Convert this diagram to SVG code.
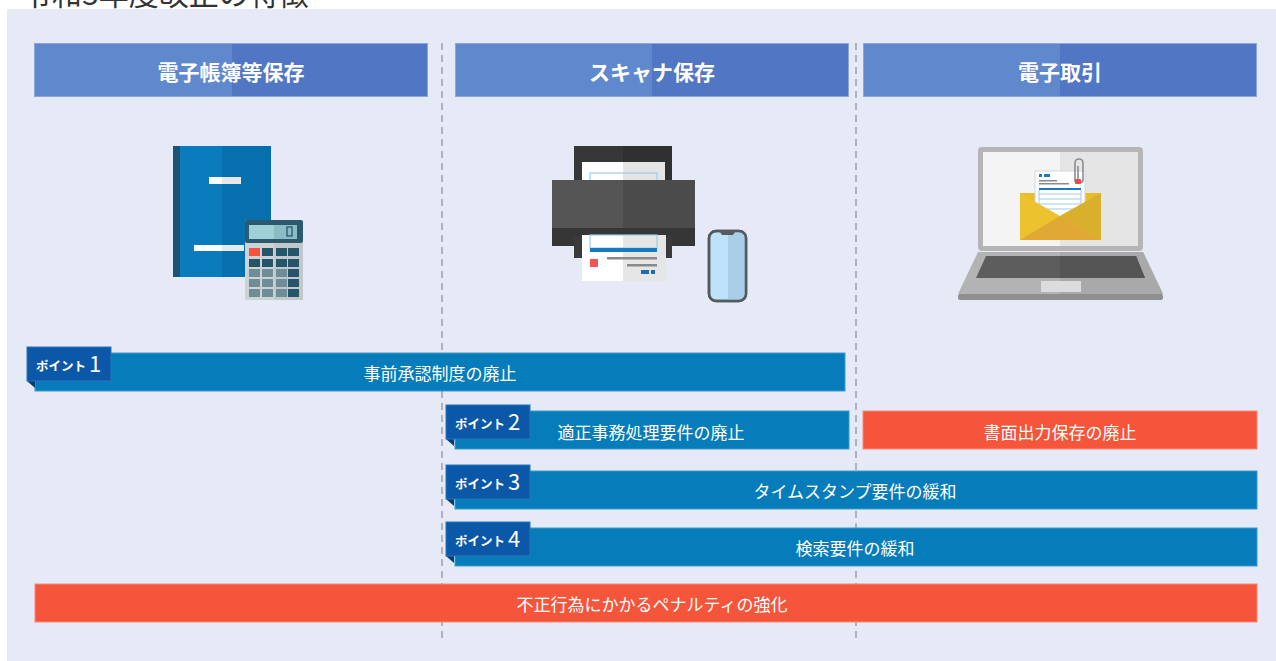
<svg xmlns="http://www.w3.org/2000/svg" width="1276" height="661" viewBox="0 0 1276 661">
  <style>
    .jp { font-family: "Noto Sans CJK JP", "Noto Sans", sans-serif; }
    .hdr-l { fill: #6089cd; }
    .hdr-r { fill: #5176c3; }
    .hdr-edge { fill: none; stroke: #8aa6dc; stroke-width: 1; }
    .hdr-txt { fill: #ffffff; font-size: 21px; font-weight: 700; text-anchor: middle; dominant-baseline: central; }
    .bar-blue { fill: #067dba; stroke: #3f9bcc; stroke-width: 1; }
    .bar-red { fill: #f5553a; stroke: #f88a75; stroke-width: 1; }
    .bar-txt { fill: #ffffff; font-size: 17px; text-anchor: middle; dominant-baseline: central; }
    .tag { fill: #0b58a8; stroke: #2c74bd; stroke-width: 1; }
    .fold { fill: #063c72; }
    .tag-word { fill: #ffffff; font-size: 12.5px; font-weight: 700; }
    .tag-num { fill: #ffffff; font-size: 22px; font-weight: 400; }
    .divider { stroke: #9aa0aa; stroke-width: 1.5; stroke-dasharray: 7 5; }
  </style>
  <defs>
    <g id="point-tag">
      <polygon class="fold" points="0,34 8,34 8,41"/>
      <rect class="tag" x="0" y="0" width="84" height="34"/>
    </g>
  </defs>

  <!-- page backdrop -->
  <rect x="0" y="0" width="1276" height="661" fill="#ffffff"/>
  <text class="jp" x="22" y="5" font-size="30" fill="#333333">令和3年度改正の特徴</text>
  <rect x="7" y="9" width="1269" height="652" fill="#e5eaf6"/>

  <!-- column dividers -->
  <g id="connectors">
    <line class="divider" x1="442" y1="43" x2="442" y2="640"/>
    <line class="divider" x1="856" y1="43" x2="856" y2="640"/>
  </g>

  <!-- column headings -->
  <g id="head-ledger">
    <rect class="hdr-l" x="34" y="43" width="198" height="54"/>
    <rect class="hdr-r" x="232" y="43" width="196" height="54"/>
    <rect class="hdr-edge" x="34.5" y="43.5" width="393" height="53"/>
    <text class="jp hdr-txt" x="231" y="71">電子帳簿等保存</text>
  </g>
  <g id="head-scanner">
    <rect class="hdr-l" x="455" y="43" width="197" height="54"/>
    <rect class="hdr-r" x="652" y="43" width="197" height="54"/>
    <rect class="hdr-edge" x="455.5" y="43.5" width="393" height="53"/>
    <text class="jp hdr-txt" x="652" y="71">スキャナ保存</text>
  </g>
  <g id="head-etrade">
    <rect class="hdr-l" x="863" y="43" width="197" height="54"/>
    <rect class="hdr-r" x="1060" y="43" width="197" height="54"/>
    <rect class="hdr-edge" x="863.5" y="43.5" width="393" height="53"/>
    <text class="jp hdr-txt" x="1060" y="71">電子取引</text>
  </g>

  <!-- ledger + calculator icon -->
  <g id="icon-ledger">
    <rect x="173" y="146" width="98" height="131" fill="#0a7bbd"/>
    <rect x="222" y="146" width="49" height="131" fill="#0570ad"/>
    <rect x="173" y="146" width="7" height="131" fill="#1c5573"/>
    <rect x="209" y="177" width="32" height="7" fill="#ffffff"/>
    <rect x="222" y="177" width="19" height="7" fill="#e6e9ec"/>
    <rect x="194" y="245" width="50" height="6" fill="#ffffff"/>
    <rect x="222" y="245" width="22" height="6" fill="#e6e9ec"/>
    <rect x="245" y="220" width="58" height="80" rx="2" fill="#cdd2d5"/>
    <rect x="274" y="243" width="29" height="57" fill="#c2c7ca"/>
    <rect x="245" y="220" width="58" height="23" rx="2" fill="#2b5a6e"/>
    <rect x="249" y="225" width="48" height="14" fill="#9fd0d6"/>
    <rect x="274" y="225" width="23" height="14" fill="#8bbcc3"/>
    <rect x="287" y="227" width="5" height="9" fill="none" stroke="#2b4a6e" stroke-width="1.2"/>
    <g fill="#265468">
      <rect x="249" y="248" width="11" height="8" fill="#f4553a"/>
      <rect x="262" y="248" width="11" height="8"/>
      <rect x="276" y="248" width="11" height="8"/>
      <rect x="288" y="248" width="11" height="8"/>
      <rect x="249" y="259" width="11" height="8"/>
      <rect x="262" y="259" width="11" height="8"/>
      <rect x="276" y="259" width="11" height="8"/>
      <rect x="288" y="259" width="11" height="8"/>
      <rect x="288" y="269" width="11" height="8"/>
      <rect x="288" y="279" width="11" height="8"/>
      <rect x="288" y="289" width="11" height="8"/>
    </g>
    <g fill="#6f8d97">
      <rect x="249" y="269" width="11" height="8"/>
      <rect x="262" y="269" width="11" height="8"/>
      <rect x="276" y="269" width="11" height="8"/>
      <rect x="249" y="279" width="11" height="8"/>
      <rect x="262" y="279" width="11" height="8"/>
      <rect x="276" y="279" width="11" height="8"/>
      <rect x="249" y="289" width="11" height="8"/>
      <rect x="262" y="289" width="11" height="8"/>
      <rect x="276" y="289" width="11" height="8"/>
    </g>
  </g>

  <!-- printer + phone icon -->
  <g id="icon-scanner">
    <rect x="574" y="146" width="98" height="36" fill="#373737"/>
    <rect x="623" y="146" width="49" height="36" fill="#303030"/>
    <rect x="582" y="162" width="83" height="20" fill="#ffffff"/>
    <rect x="623" y="162" width="42" height="20" fill="#e4e4e4"/>
    <rect x="590" y="173" width="67" height="9" fill="none" stroke="#9fcbe6" stroke-width="1.2"/>
    <rect x="552" y="180" width="143" height="48" fill="#555555"/>
    <rect x="623" y="180" width="72" height="48" fill="#4b4b4b"/>
    <rect x="552" y="228" width="143" height="18" fill="#363636"/>
    <rect x="574" y="236" width="98" height="22" fill="#3a3a3a"/>
    <rect x="582" y="235" width="84" height="46" fill="#ffffff"/>
    <rect x="623" y="235" width="43" height="46" fill="#e6e6e6"/>
    <rect x="590" y="235" width="67" height="13" fill="none" stroke="#9fcbe6" stroke-width="1.2"/>
    <rect x="590" y="248" width="67" height="4" fill="#1a7abf"/>
    <rect x="590" y="259" width="8" height="8" fill="#f55353"/>
    <rect x="607" y="257" width="50" height="2.5" fill="#8a8a8a"/>
    <rect x="627" y="264" width="30" height="2.5" fill="#8a8a8a"/>
    <rect x="641" y="270" width="8" height="4" fill="#1a6fb0"/>
    <rect x="651" y="270" width="4" height="4" fill="#1a6fb0"/>
    <rect x="709" y="231" width="37" height="70" rx="7" fill="#bde2fa" stroke="#555a5e" stroke-width="2.5"/>
    <path d="M728 232.3 H744.7 V294 A6 6 0 0 1 738.7 299.7 H728 Z" fill="#a9cfe8"/>
    <rect x="709" y="231" width="37" height="70" rx="7" fill="none" stroke="#555a5e" stroke-width="2.5"/>
    <path d="M720 232 h15 l-2 3 h-11 z" fill="#555a5e"/>
  </g>

  <!-- laptop + mail icon -->
  <g id="icon-etrade">
    <rect x="978" y="147" width="165" height="104" rx="4" fill="#b5b5b5"/>
    <rect x="983" y="152" width="155" height="94" fill="#f4f4f4"/>
    <rect x="1060" y="152" width="78" height="94" fill="#e5e5e5"/>
    <polygon points="978,252 1143,252 1163,294 958,294" fill="#b3b3b3"/>
    <polygon points="1060,252 1143,252 1163,294 1060,294" fill="#a9a9a9"/>
    <rect x="958" y="294" width="205" height="6" rx="2" fill="#8f8f8f"/>
    <polygon points="986,256 1136,256 1145,278 976,278" fill="#5d5d5d"/>
    <polygon points="1060,256 1136,256 1145,278 1060,278" fill="#555555"/>
    <rect x="1041" y="281" width="40" height="11" fill="#dcdcdc"/>
    <rect x="1020" y="193" width="81" height="47" fill="#e8bd2c"/>
    <rect x="1035" y="171" width="50" height="50" fill="#ffffff" stroke="#d0d8e0" stroke-width="1"/>
    <rect x="1039" y="174" width="3" height="3" fill="#1a7abf"/>
    <rect x="1044" y="174" width="6" height="3" fill="#1a7abf"/>
    <rect x="1039" y="180" width="18" height="1.5" fill="#8a8a8a"/>
    <rect x="1039" y="183" width="30" height="1.5" fill="#8a8a8a"/>
    <rect x="1039" y="188" width="42" height="2" fill="#1a7abf"/>
    <g stroke="#9fcbe6" stroke-width="1">
      <line x1="1039" y1="194" x2="1081" y2="194"/>
      <line x1="1039" y1="199" x2="1081" y2="199"/>
      <line x1="1039" y1="204" x2="1081" y2="204"/>
      <line x1="1039" y1="209" x2="1081" y2="209"/>
      <line x1="1039" y1="190" x2="1039" y2="215"/>
      <line x1="1081" y1="190" x2="1081" y2="215"/>
    </g>
    <path d="M1075 182 V163 a4 4 0 0 1 8 0 V180 a2.5 2.5 0 0 1 -5 0 V166" fill="none" stroke="#8c8c8c" stroke-width="1.6"/>
    <rect x="1075" y="179" width="6" height="5" rx="1" fill="#e84b4b"/>
    <polygon points="1020,193 1060,216 1101,193 1101,240 1020,240" fill="#ecc22f"/>
    <polygon points="1060,216 1101,193 1101,240" fill="#d9b02b"/>
    <polygon points="1020,240 1060,216 1101,240" fill="#dfa934"/>
  </g>

  <!-- point 1 -->
  <g id="bar-point1">
    <rect class="bar-blue" x="35" y="353" width="810" height="38"/>
    <use href="#point-tag" x="27" y="347"/>
    <text class="jp tag-word" x="36" y="371">ポイント</text>
    <text class="jp tag-num" x="89" y="372">1</text>
    <text class="jp bar-txt" x="440" y="372">事前承認制度の廃止</text>
  </g>

  <!-- point 2 -->
  <g id="bar-point2">
    <rect class="bar-blue" x="455" y="411" width="394" height="38"/>
    <use href="#point-tag" x="446" y="405"/>
    <text class="jp tag-word" x="455" y="429">ポイント</text>
    <text class="jp tag-num" x="508" y="430">2</text>
    <text class="jp bar-txt" x="651" y="431">適正事務処理要件の廃止</text>
  </g>

  <g id="bar-paper-output">
    <rect class="bar-red" x="863" y="411" width="394" height="38"/>
    <text class="jp bar-txt" x="1060" y="431">書面出力保存の廃止</text>
  </g>

  <!-- point 3 -->
  <g id="bar-point3">
    <rect class="bar-blue" x="455" y="471" width="802" height="38"/>
    <use href="#point-tag" x="446" y="465"/>
    <text class="jp tag-word" x="455" y="489">ポイント</text>
    <text class="jp tag-num" x="508" y="490">3</text>
    <text class="jp bar-txt" x="855" y="490">タイムスタンプ要件の緩和</text>
  </g>

  <!-- point 4 -->
  <g id="bar-point4">
    <rect class="bar-blue" x="455" y="528" width="802" height="38"/>
    <use href="#point-tag" x="446" y="522"/>
    <text class="jp tag-word" x="455" y="546">ポイント</text>
    <text class="jp tag-num" x="508" y="547">4</text>
    <text class="jp bar-txt" x="855" y="547">検索要件の緩和</text>
  </g>

  <!-- penalties -->
  <g id="bar-penalty">
    <rect class="bar-red" x="35" y="584" width="1222" height="38"/>
    <text class="jp bar-txt" x="652" y="603">不正行為にかかるペナルティの強化</text>
  </g>
</svg>
